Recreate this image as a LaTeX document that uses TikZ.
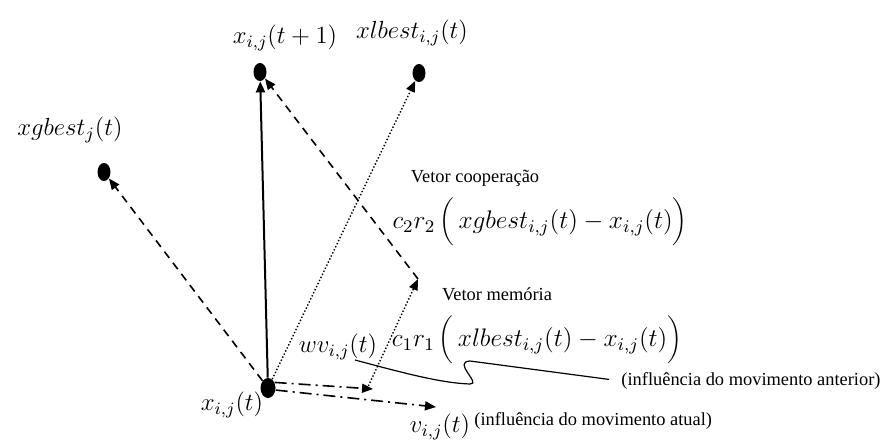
\documentclass[tikz,border=0pt]{standalone}
\usepackage{fix-cm}
\usepackage[no-math]{fontspec}
\setmainfont{Liberation Serif}
\newfontfamily\legendfont{Liberation Serif}
\usetikzlibrary{arrows.meta,positioning,shapes.geometric}

\begin{document}
\begin{tikzpicture}[
  x=0.5pt, y=-0.5pt,
  pdot/.style={ellipse, fill=black, minimum width=6.5pt, minimum height=9pt, inner sep=0pt},
  vec/.style={line width=0.8pt, -{Triangle[length=5.5pt,width=4.5pt]}},
  solidvec/.style={vec, line width=1pt},
  dashvec/.style={vec, dash pattern=on 4pt off 3pt},
  dotvec/.style={vec, line width=0.7pt, dash pattern=on 0.7pt off 1pt},
  dashdotvec/.style={vec, dash pattern=on 6pt off 2.5pt on 1pt off 2.5pt},
  mlabel/.style={font=\fontsize{12.4}{14}\selectfont, inner sep=0pt},
  biglabel/.style={font=\fontsize{12.7}{15}\selectfont, inner sep=0pt},
  tlabel/.style={font=\legendfont\fontsize{9.2}{11}\selectfont, inner sep=0pt}
]
  \useasboundingbox (0,0) rectangle (885,441);

  % particle positions
  \node[pdot, minimum width=7.5pt, minimum height=10pt] (xt) at (268,388) {};
  \node[pdot] (xt1) at (260,72) {};
  \node[pdot] (xlb) at (419,73) {};
  \node[pdot] (xgb) at (104,172) {};
  \coordinate (wvend) at (373,389);
  \coordinate (memend) at (418,279);
  \coordinate (vend) at (436,407);

  % vectors
  \draw[solidvec] (xt) -- (xt1);
  \draw[dashvec] (xt) -- (xgb);
  \draw[dotvec] (xt) -- (xlb);
  \draw[dashdotvec] (xt.40) -- (wvend);
  \draw[dashdotvec] (xt.-15) -- (vend);
  \draw[dotvec] ([xshift=-3pt]wvend) -- (memend);
  \draw[dashvec] (memend) -- (xt1);

  % labels
  \node[mlabel] (lxt1) at (285,38) {$x_{i,j}(t+1)$};
  \node[mlabel] (lxlb) at (412,33) {$xlbest_{i,j}(t)$};
  \node[mlabel] (lxgb) at (70,130) {$xgbest_{j}(t)$};
  \node[mlabel] (lxt) at (232,405) {$x_{i,j}(t)$};
  \node[mlabel] (lwv) at (338,347) {$wv_{i,j}(t)$};
  \node[mlabel] (lv) at (440,427) {$v_{i,j}(t)$};
  \node[tlabel, anchor=west] (latual) at (474,421) {(influência do movimento atual)};
  \node[tlabel] (lanterior) at (751,381) {(influência do movimento anterior)};
  \node[tlabel] (lcoop) at (475,178) {Vetor cooperação};
  \node[biglabel] (lc2) at (540,222) {$c_2r_2\,\bigg(\,xgbest_{i,j}(t)-x_{i,j}(t)\bigg)$};
  \node[tlabel] (lmem) at (497,294) {Vetor memória};
  \node[biglabel] (lc1) at (537,340) {$c_1r_1\,\bigg(\,xlbest_{i,j}(t)-x_{i,j}(t)\bigg)$};

  % callout line
  \draw[line width=0.6pt, shorten >=6pt] (355,360) .. controls (400,372) and (440,383) .. (470,384)
    .. controls (482,384) and (452,362) .. (470,361) -- (lanterior.west);
\end{tikzpicture}
\end{document}
